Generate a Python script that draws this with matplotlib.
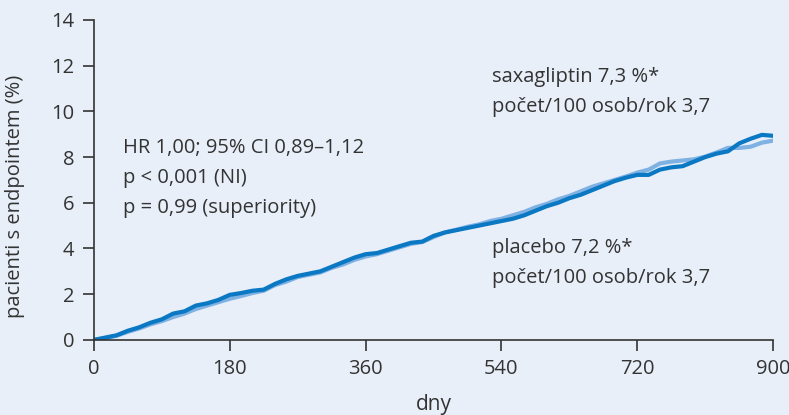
import numpy as np
import matplotlib.pyplot as plt

plt.rcParams['font.family'] = ['Open Sans', 'DejaVu Sans']

# data (days, % patients with endpoint)
days = list(range(0, 901, 15))
saxagliptin = [0, 0.1, 0.2, 0.4, 0.55, 0.75, 0.9, 1.15, 1.25, 1.5, 1.6, 1.75, 1.97,
               2.05, 2.15, 2.2, 2.45, 2.65, 2.8, 2.9, 3.0, 3.2, 3.4, 3.6, 3.75,
               3.8, 3.95, 4.1, 4.25, 4.3, 4.55, 4.7, 4.8, 4.9, 5.0, 5.1, 5.2,
               5.3, 5.45, 5.65, 5.85, 6.0, 6.2, 6.35, 6.55, 6.75, 6.95, 7.1, 7.22,
               7.22, 7.45, 7.55, 7.6, 7.8, 8.0, 8.15, 8.25, 8.6, 8.8, 8.97, 8.93]
placebo = [0, 0.08, 0.18, 0.35, 0.5, 0.68, 0.82, 1.0, 1.15, 1.35, 1.5, 1.65, 1.8,
           1.92, 2.05, 2.15, 2.4, 2.55, 2.75, 2.85, 2.95, 3.15, 3.3, 3.5, 3.65,
           3.75, 3.9, 4.05, 4.2, 4.28, 4.5, 4.7, 4.82, 4.95, 5.05, 5.2, 5.3,
           5.45, 5.6, 5.8, 5.95, 6.15, 6.3, 6.5, 6.7, 6.85, 7.0, 7.15, 7.32,
           7.45, 7.72, 7.8, 7.85, 7.9, 8.02, 8.2, 8.4, 8.4, 8.45, 8.63, 8.72]

xticks = [0, 180, 360, 540, 720, 900]
yticks = [0, 2, 4, 6, 8, 10, 12, 14]

bg = '#e8eff9'
dark = '#333333'

fig = plt.figure(figsize=(7.89, 4.15), dpi=100, facecolor=bg)
ax = fig.add_axes([0.119, 0.181, 0.861, 0.771], facecolor=bg)

ax.plot(days, placebo, color='#7fb1e2', lw=3.0)
ax.plot(days, saxagliptin, color='#0a78c2', lw=3.0)

ax.set_xlim(0, 900)
ax.set_ylim(0, 14)
ax.set_xticks(xticks)
ax.set_yticks(yticks)
ax.spines['top'].set_visible(False)
ax.spines['right'].set_visible(False)
for s in ['left', 'bottom']:
    ax.spines[s].set_color(dark)
    ax.spines[s].set_linewidth(1.2)
ax.tick_params(direction='out', length=8, width=1.2, color=dark,
               labelsize=14.5, labelcolor=dark, pad=6)

ax.set_xlabel('dny', fontsize=15, color=dark)
ax.xaxis.set_label_coords(0.5, -0.168)
ax.set_ylabel('pacienti s endpointem (%)', fontsize=14.5, color=dark)
ax.yaxis.set_label_coords(-0.102, 0.45)

txt = dict(fontsize=14.5, color=dark, va='center', ha='left')
ax.text(38, 8.4, 'HR 1,00; 95% CI 0,89–1,12', **txt)
ax.text(38, 7.09, 'p < 0,001 (NI)', **txt)
ax.text(38, 5.77, 'p = 0,99 (superiority)', **txt)
ax.text(527, 11.5, 'saxagliptin 7,3 %*', **txt)
ax.text(527, 10.2, 'počet/100 osob/rok 3,7', **txt)
ax.text(527, 4.0, 'placebo 7,2 %*', **txt)
ax.text(527, 2.7, 'počet/100 osob/rok 3,7', **txt)

fig.savefig('out.png', dpi=100, facecolor=bg)
